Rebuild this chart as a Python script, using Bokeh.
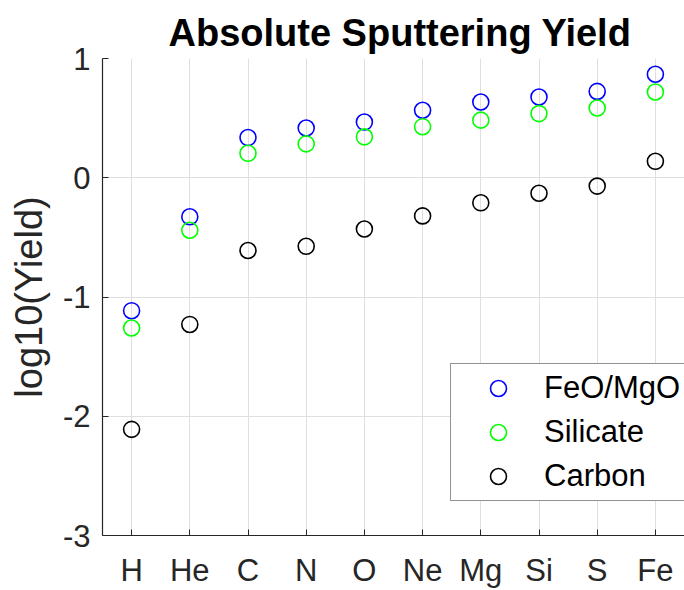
from bokeh.plotting import figure
from bokeh.models import FactorRange, Range1d, FixedTicker
from bokeh.embed import file_html
from bokeh.resources import INLINE

elements = ["H", "He", "C", "N", "O", "Ne", "Mg", "Si", "S", "Fe"]
feo_mgo = [-1.115, -0.327, 0.337, 0.417, 0.467, 0.566, 0.635, 0.677, 0.724, 0.868]
silicate = [-1.26, -0.44, 0.205, 0.284, 0.343, 0.428, 0.483, 0.538, 0.585, 0.719]
carbon = [-2.11, -1.23, -0.61, -0.575, -0.43, -0.32, -0.21, -0.13, -0.07, 0.138]
y_ticks = [-3, -2, -1, 0, 1]

FONT = "Liberation Sans"
AX = "#262626"

p = figure(width=684, height=590, output_backend="svg", toolbar_location=None,
           x_range=FactorRange(*elements, range_padding=0), y_range=Range1d(-3, 1),
           min_border_left=102, min_border_right=0, min_border_top=58, min_border_bottom=52,
           title="Absolute Sputtering Yield")
p.outline_line_color = None
p.background_fill_color = "white"
p.border_fill_color = "white"

p.title.text_font = FONT
p.title.text_font_size = "38px"
p.title.text_font_style = "bold"
p.title.text_color = "black"
p.title.align = "left"
p.title.offset = 66
p.title.standoff = 10

for ax in (p.xaxis[0], p.yaxis[0]):
    ax.axis_line_color = AX
    ax.axis_line_width = 1.2
    ax.major_tick_line_color = AX
    ax.major_tick_in = 6
    ax.major_tick_out = 0
    ax.minor_tick_line_color = None
    ax.major_label_text_font = FONT
    ax.major_label_text_font_size = "31px"
    ax.major_label_text_color = AX

p.xaxis.major_label_standoff = 17
p.yaxis.major_label_standoff = 12
p.yaxis.ticker = FixedTicker(ticks=y_ticks)
p.yaxis.major_label_overrides = {t: str(t) for t in y_ticks}
p.yaxis.axis_label = "log10(Yield)"
p.yaxis.axis_label_text_font = FONT
p.yaxis.axis_label_text_font_size = "38px"
p.yaxis.axis_label_text_font_style = "normal"
p.yaxis.axis_label_text_color = AX
p.yaxis.axis_label_standoff = 10

p.xgrid.grid_line_color = "#dfdfdf"
p.ygrid.grid_line_color = "#dfdfdf"
p.ygrid.ticker = FixedTicker(ticks=y_ticks)

series = [("FeO/MgO", feo_mgo, "#0000ff"), ("Silicate", silicate, "#00ff00"), ("Carbon", carbon, "#000000")]
for name, vals, col in series:
    p.scatter(x=elements, y=vals, marker="circle", size=16, fill_color=None,
              line_color=col, line_width=1.6, legend_label=name)

lg = p.legend[0]
lg.location = (348, 34)
lg.margin = 0
lg.padding = 4
lg.spacing = 4
lg.glyph_width = 86
lg.glyph_height = 40
lg.label_height = 40
lg.label_width = 200
lg.label_standoff = 3
lg.label_text_font = FONT
lg.label_text_font_size = "31px"
lg.label_text_color = "black"
lg.border_line_color = AX
lg.border_line_width = 1.2
lg.background_fill_color = "white"
lg.background_fill_alpha = 1

open("out.html", "w").write(file_html(p, INLINE))
